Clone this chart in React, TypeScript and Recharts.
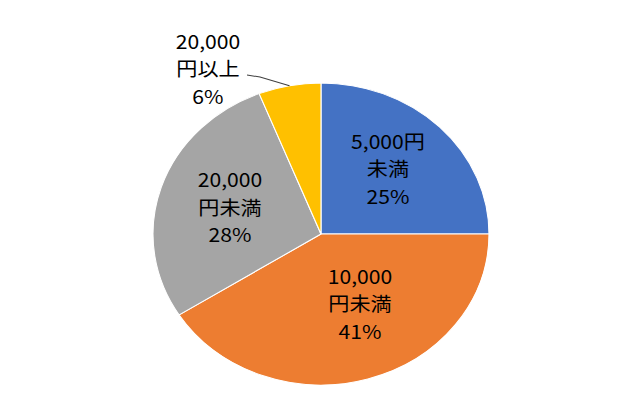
import React from "react";
import { PieChart, Pie, Cell } from "recharts";

const categories = ["5,000円未満", "10,000円未満", "20,000円未満", "20,000円以上"];
const shares = [25, 41, 28, 6];
const labelLines = [
  ["5,000円", "未満"],
  ["10,000", "円未満"],
  ["20,000", "円未満"],
  ["20,000", "円以上"],
];
const colors = ["#4472C4", "#ED7D31", "#A5A5A5", "#FFC000"];

const data = categories.map((name, i) => ({ name, value: shares[i] }));

// the picture is stretched sideways, so the whole chart is scaled on x
const STRETCH = 1.1126;
const RADIAN = Math.PI / 180;
const LINE_H = 27.5;
// small per-slice tweaks so the inside labels sit where Excel put them
const nudge = [
  [-1.7, -4],
  [10.6, -15],
  [1.5, 0],
];

const polar = (cx: number, cy: number, r: number, angle: number) => ({
  x: cx + r * Math.cos(-angle * RADIAN),
  y: cy + r * Math.sin(-angle * RADIAN),
});

const textStyle = {
  fontFamily: "'Noto Sans CJK JP', sans-serif",
  fontSize: 19,
  fill: "#000",
};

function renderLabel(props: any) {
  const { cx, cy, midAngle, outerRadius, index, value } = props;
  const lines = [...labelLines[index], `${value}%`];

  if (index === 3) {
    const edge = polar(cx, cy, outerRadius, midAngle);
    const bx = cx - 101.6;
    const by = cy - 166;
    return (
      <g key={`lbl-${index}`}>
        <polyline
          points={`${edge.x},${edge.y} ${cx - 54.8},${cy - 157} ${cx - 66.5},${cy - 159}`}
          fill="none"
          stroke="#404040"
          strokeWidth={1}
        />
        {lines.map((t, i) => (
          <text
            key={i}
            x={bx}
            y={by + (i - 1) * LINE_H}
            textAnchor="middle"
            dominantBaseline="central"
            style={textStyle}
          >
            {t}
          </text>
        ))}
      </g>
    );
  }

  const p = polar(cx, cy, outerRadius * 0.58, midAngle);
  const x = p.x + nudge[index][0];
  const y = p.y + nudge[index][1];
  return (
    <g key={`lbl-${index}`}>
      {lines.map((t, i) => (
        <text
          key={i}
          x={x}
          y={y + (i - 1) * LINE_H}
          textAnchor="middle"
          dominantBaseline="central"
          style={textStyle}
        >
          {t}
        </text>
      ))}
    </g>
  );
}

export default function App() {
  const w = 640 / STRETCH;
  return (
    <div
      style={{
        position: "absolute",
        left: 0,
        top: 0,
        width: w,
        height: 416,
        background: "#fff",
        transform: `scaleX(${STRETCH})`,
        transformOrigin: "0 0",
      }}
    >
      <PieChart width={w} height={416} margin={{ top: 0, right: 0, bottom: 0, left: 0 }}>
        <Pie
          data={data}
          dataKey="value"
          nameKey="name"
          cx={321 / STRETCH}
          cy={234}
          outerRadius={151}
          startAngle={90}
          endAngle={-270}
          stroke="#fff"
          strokeWidth={1}
          label={renderLabel}
          labelLine={false}
          isAnimationActive={false}
        >
          {data.map((d, i) => (
            <Cell key={d.name} fill={colors[i]} />
          ))}
        </Pie>
      </PieChart>
    </div>
  );
}
